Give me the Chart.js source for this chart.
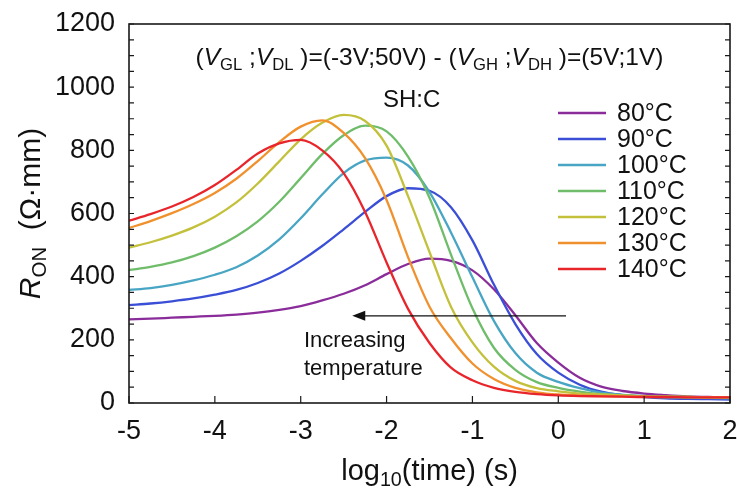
<!DOCTYPE html>
<html>
<head>
<meta charset="utf-8">
<script src="https://cdn.jsdelivr.net/npm/chart.js@4.4.0/dist/chart.umd.min.js"></script>
<style>
  html, body { margin: 0; padding: 0; background: #fff; }
  #chart { display: block; }
</style>
</head>
<body>
<canvas id="chart" width="737" height="493"></canvas>
<script>
// log10(time) grid the curves were read on
const logTime = [-5, -4.75, -4.5, -4.25, -4, -3.75, -3.5, -3.25, -3, -2.75, -2.5, -2.25, -2, -1.75, -1.5, -1.25,
  -1, -0.75, -0.5, -0.25, 0, 0.25, 0.5, 0.75, 1, 1.25, 1.5, 1.75, 2];

// R_ON (ohm.mm) per temperature
const r80  = [265, 267, 270, 273, 276, 280, 286, 295, 307, 325, 346, 373, 408, 440, 457, 450,
  420, 360, 278, 190, 128, 80, 52, 38, 30, 25, 21, 19, 17];
const r90  = [310, 315, 322, 331, 343, 358, 380, 410, 450, 497, 550, 605, 655, 680, 672, 620,
  515, 375, 250, 155, 96, 58, 36, 25, 19, 15, 13, 12, 11];
const r100 = [358, 364, 374, 388, 406, 430, 467, 518, 585, 660, 728, 768, 777, 752, 668, 540,
  398, 260, 158, 96, 67, 47, 33, 26, 22, 19, 17, 16, 15];
const r110 = [421, 431, 445, 465, 492, 528, 575, 637, 712, 788, 848, 878, 860, 780, 650, 470,
  300, 175, 105, 66, 48, 36, 28, 24, 21, 20, 19, 18, 17];
const r120 = [492, 509, 530, 556, 590, 635, 695, 765, 835, 887, 912, 893, 815, 655, 478, 305,
  192, 115, 70, 47, 37, 30, 27, 24, 21, 20, 19, 18, 18];
const r130 = [554, 576, 601, 630, 665, 710, 766, 826, 875, 895, 855, 775, 643, 462, 305, 205,
  125, 76, 48, 34, 27, 24, 22, 21, 20, 19, 19, 18, 18];
const r140 = [577, 598, 622, 652, 690, 738, 790, 822, 833, 800, 728, 605, 445, 298, 190, 112,
  72, 48, 35, 28, 24, 22, 21, 20, 19, 19, 18, 18, 18];

const tempLabels = ['80°C', '90°C', '100°C', '110°C', '120°C', '130°C', '140°C'];
const series = [r80, r90, r100, r110, r120, r130, r140];
const colors = ['#8a2c9a', '#3b4fd6', '#48a5c4', '#6fbd6a', '#c3c13c', '#f0912e', '#e8252b'];

const FONT = '"Liberation Sans", Arial, sans-serif';

function richText(ctx, parts, x, y, size, align) {
  // parts: [text, italic, sub]
  const sizeOf = p => p[2] ? size * 0.68 : size;
  let total = 0;
  parts.forEach(p => {
    ctx.font = (p[1] ? 'italic ' : '') + sizeOf(p) + 'px ' + FONT;
    total += ctx.measureText(p[0]).width;
  });
  let cx = align === 'center' ? x - total / 2 : x;
  ctx.textAlign = 'left';
  ctx.textBaseline = 'alphabetic';
  parts.forEach(p => {
    ctx.font = (p[1] ? 'italic ' : '') + sizeOf(p) + 'px ' + FONT;
    ctx.fillText(p[0], cx, y + (p[2] ? size * 0.2 : 0));
    cx += ctx.measureText(p[0]).width;
  });
}

const decor = {
  id: 'decor',
  afterDraw(chart) {
    const { ctx, chartArea: a, scales: { x, y } } = chart;
    ctx.save();
    ctx.strokeStyle = '#1a1a1a';
    ctx.fillStyle = '#111';

    // frame
    ctx.lineWidth = 1.6;
    ctx.strokeRect(a.left, a.top, a.right - a.left, a.bottom - a.top);

    // inward ticks
    ctx.lineWidth = 1.2;
    ctx.beginPath();
    for (let v = 0; v <= 1200; v += 50) {
      const py = y.getPixelForValue(v);
      ctx.moveTo(a.left, py); ctx.lineTo(a.left + 5, py);
      ctx.moveTo(a.right, py); ctx.lineTo(a.right - 5, py);
    }
    for (let v = -5; v <= 2; v++) {
      const px = x.getPixelForValue(v);
      ctx.moveTo(px, a.bottom); ctx.lineTo(px, a.bottom - 7);
    }
    ctx.stroke();

    // axis titles
    richText(ctx, [['log', 0, 0], ['10', 0, 1], ['(time) (s)', 0, 0]], (a.left + a.right) / 2, 480, 29, 'center');
    ctx.save();
    ctx.translate(40, (a.top + a.bottom) / 2);
    ctx.rotate(-Math.PI / 2);
    richText(ctx, [['R', 1, 0], ['ON', 0, 1], ['  (Ω·mm)', 0, 0]], 0, 0, 30, 'center');
    ctx.restore();

    // conditions
    richText(ctx, [['(', 0, 0], ['V', 1, 0], ['GL', 0, 1], [' ;', 0, 0], ['V', 1, 0], ['DL', 0, 1],
      [' )=(-3V;50V) - (', 0, 0], ['V', 1, 0], ['GH', 0, 1], [' ;', 0, 0], ['V', 1, 0], ['DH', 0, 1],
      [' )=(5V;1V)', 0, 0]], (a.left + a.right) / 2, 65, 24.5, 'center');
    richText(ctx, [['SH:C', 0, 0]], 383, 107, 24, 'left');

    // legend
    series.forEach((s, i) => {
      const ly = 113 + i * 26;
      ctx.strokeStyle = colors[i];
      ctx.lineWidth = 2.4;
      ctx.beginPath();
      ctx.moveTo(558, ly); ctx.lineTo(606, ly);
      ctx.stroke();
      ctx.fillStyle = '#111';
      ctx.font = '25px ' + FONT;
      ctx.textAlign = 'left';
      ctx.textBaseline = 'middle';
      ctx.fillText(tempLabels[i], 617, ly + 1);
    });

    // arrow
    const ay = y.getPixelForValue(276);
    const ax0 = x.getPixelForValue(0.09), ax1 = x.getPixelForValue(-2.4);
    ctx.strokeStyle = '#111';
    ctx.lineWidth = 1.3;
    ctx.beginPath();
    ctx.moveTo(ax0, ay); ctx.lineTo(ax1 + 10, ay);
    ctx.stroke();
    ctx.fillStyle = '#111';
    ctx.beginPath();
    ctx.moveTo(ax1, ay); ctx.lineTo(ax1 + 13, ay - 5); ctx.lineTo(ax1 + 13, ay + 5);
    ctx.closePath();
    ctx.fill();
    ctx.font = '22px ' + FONT;
    ctx.textAlign = 'left';
    ctx.textBaseline = 'alphabetic';
    ctx.fillText('Increasing', 304, 347);
    ctx.fillText('temperature', 304, 375);
    ctx.restore();
  }
};

new Chart(document.getElementById('chart'), {
  type: 'line',
  data: {
    datasets: series.map((s, i) => ({
      label: tempLabels[i],
      data: logTime.map((t, k) => ({ x: t, y: s[k] })),
      borderColor: colors[i],
      borderWidth: 2.3,
      pointRadius: 0,
      fill: false,
      cubicInterpolationMode: 'monotone',
      order: series.length - i
    }))
  },
  options: {
    responsive: false,
    animation: false,
    devicePixelRatio: 1,
    layout: { padding: { left: 0, right: 7, top: 24, bottom: 0 } },
    plugins: { legend: { display: false }, tooltip: { enabled: false } },
    scales: {
      x: {
        type: 'linear', min: -5, max: 2,
        grid: { display: false, drawTicks: false },
        border: { display: false },
        ticks: { stepSize: 1, padding: 12, color: '#111', font: { family: FONT, size: 27 },
          callback: v => String(v) },
        afterFit(s) { s.height = 90; s.paddingLeft = 0; s.paddingRight = 0; }
      },
      y: {
        min: 0, max: 1200,
        grid: { display: false, drawTicks: false },
        border: { display: false },
        ticks: { stepSize: 200, padding: 14, color: '#111', font: { family: FONT, size: 27 },
          callback: v => String(v) },
        afterFit(s) { s.width = 129; s.paddingTop = 0; s.paddingBottom = 0; }
      }
    }
  },
  plugins: [decor]
});
</script>
</body>
</html>
